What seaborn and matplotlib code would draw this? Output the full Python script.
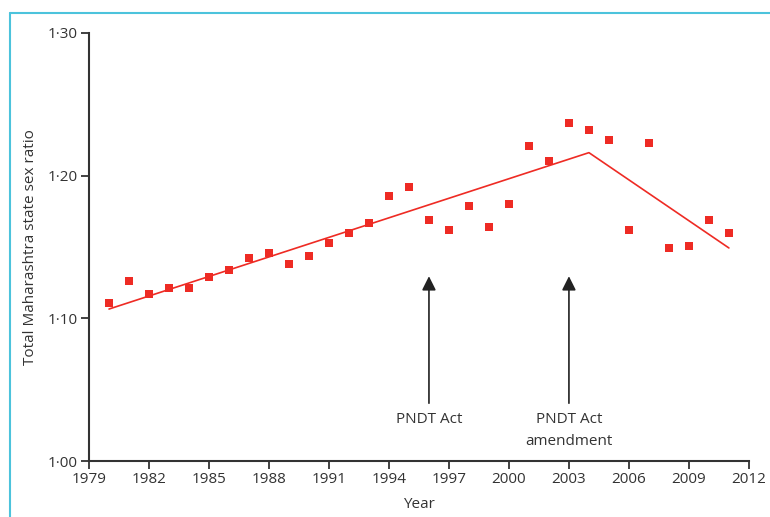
import numpy as np
import matplotlib.pyplot as plt
import seaborn as sns
from matplotlib.lines import Line2D

# --- Data ---
years = [1980, 1981, 1982, 1983, 1984, 1985, 1986, 1987, 1988, 1989, 1990,
         1991, 1992, 1993, 1994, 1995, 1996, 1997, 1998, 1999, 2000, 2001,
         2002, 2003, 2004, 2005, 2006, 2007, 2008, 2009, 2010, 2011]
sex_ratio = [1.111, 1.126, 1.117, 1.121, 1.121, 1.129, 1.134, 1.142, 1.146,
             1.138, 1.144, 1.153, 1.160, 1.167, 1.186, 1.192, 1.169, 1.162,
             1.179, 1.164, 1.180, 1.221, 1.210, 1.237, 1.232, 1.225, 1.162,
             1.223, 1.149, 1.151, 1.169, 1.160]

# piecewise trend line (breakpoint 2004)
trend_years = [1980, 2004, 2011]
trend_ratio = [1.1065, 1.2161, 1.1493]

# policy events
event_years = [1996, 2003]
event_labels = ["PNDT Act", "PNDT Act\namendment"]

x_ticks = [1979, 1982, 1985, 1988, 1991, 1994, 1997, 2000, 2003, 2006, 2009, 2012]
y_ticks = [1.00, 1.10, 1.20, 1.30]
y_tick_labels = ["1·00", "1·10", "1·20", "1·30"]

# --- Style ---
sns.set_style("ticks")
plt.rcParams['font.family'] = ['Open Sans', 'DejaVu Sans']
RED = "#ee2b24"
DARK = "#333333"
FS = 11

fig = plt.figure(figsize=(7.7, 5.17), dpi=100)
ax = fig.add_axes([0.1156, 0.1083, 0.857, 0.828])

sns.scatterplot(x=years, y=sex_ratio, marker='s', s=34, color=RED,
                linewidth=0, ax=ax, zorder=3)
sns.lineplot(x=trend_years, y=trend_ratio, color=RED, linewidth=1.2, ax=ax)

# arrows + labels for the acts
for yr, lab in zip(event_years, event_labels):
    ax.annotate('', xy=(yr, 1.1295), xytext=(yr, 1.0405),
                arrowprops=dict(arrowstyle='-|>,head_length=0.8,head_width=0.4',
                                color='#222222', lw=1.2, shrinkA=0, shrinkB=0,
                                mutation_scale=10.5))
    ax.text(yr, 1.034, lab, ha='center', va='top', fontsize=FS,
            color=DARK, linespacing=1.55)

ax.set_xlim(1979, 2012)
ax.set_ylim(1.00, 1.30)
ax.set_xticks(x_ticks)
ax.set_yticks(y_ticks)
ax.set_yticklabels(y_tick_labels)
ax.set_xlabel("Year", fontsize=FS, color=DARK, labelpad=7)
ax.set_ylabel("Total Maharashtra state sex ratio", fontsize=FS, color=DARK,
              labelpad=7)
ax.tick_params(axis='both', labelsize=FS, colors=DARK, length=6, width=1.3,
               pad=2)
sns.despine(ax=ax)
for side in ['left', 'bottom']:
    ax.spines[side].set_linewidth(1.5)
    ax.spines[side].set_color(DARK)

# light blue frame lines at top and left of the panel
fig.add_artist(Line2D([10 / 770, 1.0], [1 - 13 / 517, 1 - 13 / 517],
                      color="#4cc3dc", lw=1.5, transform=fig.transFigure))
fig.add_artist(Line2D([10 / 770, 10 / 770], [0.0, 1 - 13 / 517],
                      color="#4cc3dc", lw=1.5, transform=fig.transFigure))

fig.savefig("out.png", dpi=100)
